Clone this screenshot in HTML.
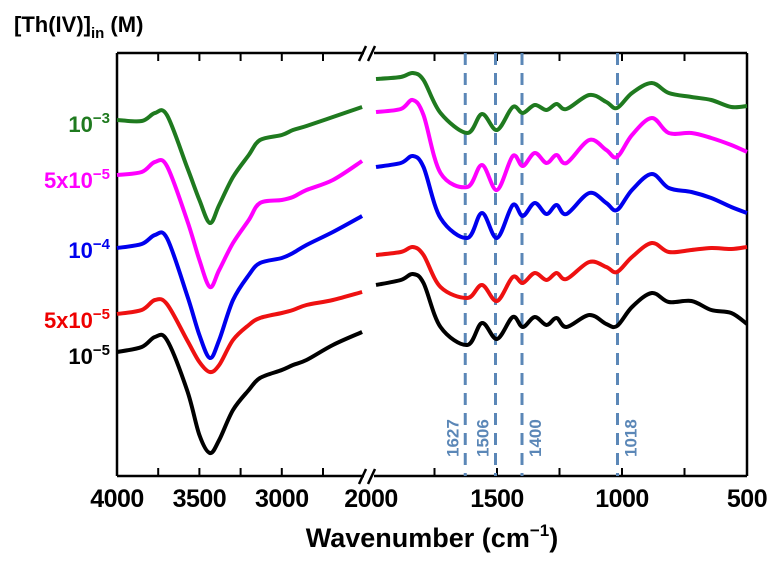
<!DOCTYPE html>
<html><head><meta charset="utf-8"><style>
html,body{margin:0;padding:0;background:#fff;width:784px;height:565px;overflow:hidden}
svg{display:block;font-family:"Liberation Sans",Arial,sans-serif}
</style></head><body>
<svg id="chart" width="784" height="565" viewBox="0 0 784 565" xmlns="http://www.w3.org/2000/svg">
<text x="14" y="32" font-size="22" font-weight="bold">[Th(IV)]<tspan font-size="15" dy="6">in</tspan><tspan dy="-6"> (M)</tspan></text>
<g id="frame" stroke="#000" stroke-width="2.5" fill="none">
<line x1="117" y1="53" x2="117" y2="476"/>
<line x1="747" y1="53" x2="747" y2="476"/>
<line x1="117" y1="53" x2="364" y2="53"/>
<line x1="374" y1="53" x2="747" y2="53"/>
<line x1="117" y1="476" x2="364" y2="476"/>
<line x1="374" y1="476" x2="747" y2="476"/>
<line x1="359" y1="61" x2="366" y2="46"/>
<line x1="368" y1="61" x2="375" y2="46"/>
<line x1="359" y1="484" x2="366" y2="469"/>
<line x1="368" y1="484" x2="375" y2="469"/>
</g>
<g id="ticks" stroke="#000" stroke-width="2"></g>
<g id="ticklabels" font-size="25" font-weight="bold" text-anchor="middle" letter-spacing="-0.5"></g>
<g id="dashes"></g>
<g id="series"></g>
<g id="labels" font-size="22" font-weight="bold" text-anchor="end">
<text x="110" y="132" fill="#1f7a1f">10<tspan font-size="15" dy="-9">−3</tspan></text>
<text x="110" y="188" fill="#ff00ff">5x10<tspan font-size="15" dy="-9">−5</tspan></text>
<text x="110" y="258" fill="#0000ee">10<tspan font-size="15" dy="-9">−4</tspan></text>
<text x="110" y="328" fill="#ee0000">5x10<tspan font-size="15" dy="-9">−5</tspan></text>
<text x="110" y="364" fill="#000">10<tspan font-size="15" dy="-9">−5</tspan></text>
</g>
<text x="432" y="547" font-size="27" font-weight="bold" text-anchor="middle">Wavenumber (cm<tspan font-size="17" dy="-11">−1</tspan><tspan dy="11">)</tspan></text>
</svg>
<script>
const leftWn=[4000,3850,3770,3697,3575,3500,3436,3380,3296,3200,3132,3000,2932,2850,2690,2513];
const rightWn=[1984,1885,1837,1794,1726,1619,1560,1500,1437,1397,1349,1302,1262,1222,1131,1063,1020,960,881,813,722,643,563,500];
const green1=[380,379,387,385,333,300,277,295,323,345,360,365,370,374,383,393];
const magenta1=[325,328,338,334,280,240,213,230,257,280,297,300,303,310,320,339];
const blue1=[252,256,265,262,205,165,142,160,200,225,237,242,247,255,268,284];
const red1=[186,190,200,196,160,138,128,135,160,175,182,187,190,195,200,208];
const black1=[148,153,163,160,110,65,47,60,90,110,122,130,135,140,155,168];
const green2=[421,423,427,420,387,367,386,370,393,387,395,390,396,391,405,398,392,407,417,407,403,400,393,394];
const magenta2=[388,391,400,385,327,313,335,310,344,334,347,337,345,337,360,350,343,365,382,367,367,362,355,348];
const blue2=[333,337,344,333,282,262,287,262,295,284,297,286,295,286,307,297,290,310,326,312,308,302,293,287];
const red2=[245,248,253,245,213,202,215,199,223,217,227,220,227,221,238,233,228,243,257,248,250,252,251,253];
const black2=[215,220,226,217,173,155,177,161,183,173,183,175,182,173,185,176,174,193,207,198,199,190,187,176];
const peaks=[1627,1506,1400,1018];
const leftTicks=[3750,3500,3250,3000,2750];
const rightTicks=[1750,1500,1250,1000,750];
const tickLabels=[[4000,'L'],[3500,'L'],[3000,'L'],[1500,'R'],[1000,'R'],[500,'R']];

const NS='http://www.w3.org/2000/svg';
function xL(w){return 117+(4000-w)/250*41.2;}
function xR(w){return 747-(w-500)/250*62.5;}
function yS(v){return 500-v;}
function el(t,a,p){const e=document.createElementNS(NS,t);for(const k in a)e.setAttribute(k,a[k]);p.appendChild(e);return e;}
function smooth(pts){
  let d='M'+pts[0][0].toFixed(1)+','+pts[0][1].toFixed(1);
  for(let i=0;i<pts.length-1;i++){
    const p0=pts[i-1]||pts[i],p1=pts[i],p2=pts[i+1],p3=pts[i+2]||p2;
    const c1=[p1[0]+(p2[0]-p0[0])/6,p1[1]+(p2[1]-p0[1])/6];
    const c2=[p2[0]-(p3[0]-p1[0])/6,p2[1]-(p3[1]-p1[1])/6];
    d+='C'+c1[0].toFixed(1)+','+c1[1].toFixed(1)+' '+c2[0].toFixed(1)+','+c2[1].toFixed(1)+' '+p2[0].toFixed(1)+','+p2[1].toFixed(1);
  }
  return d;
}
const ticks=document.getElementById('ticks');
leftTicks.forEach(w=>{
  const a=el('line',{x1:xL(w),y1:53,x2:xL(w),y2:61},ticks);
  
  
  const b=el('line',{x1:xL(w),y1:476,x2:xL(w),y2:468},ticks);
  
  
});
rightTicks.forEach(w=>{
  const a=el('line',{x1:xR(w),y1:53,x2:xR(w),y2:61},ticks);
  
  
  const b=el('line',{x1:xR(w),y1:476,x2:xR(w),y2:468},ticks);
  
  
});
const tl=document.getElementById('ticklabels');
tickLabels.forEach(([w,s])=>{
  const t=el('text',{x:s==='L'?xL(w):xR(w),y:507},tl);
  
  
  t.textContent=w;
});
const t2=el('text',{x:371,y:507},tl);


t2.textContent='2000';

const dg=document.getElementById('dashes');
peaks.forEach((w,i)=>{
  const x=xR(w);
  const l=el('line',{x1:x,y1:53,x2:x,y2:476,stroke:'#5b87b7','stroke-width':3,'stroke-dasharray':'12,8'},dg);
  
  
  const tx=(i<2)?x-7:x+19;
  const t=el('text',{x:tx,y:457,transform:'rotate(-90 '+tx+' 457)',fill:'#5b87b7','font-size':17,'font-weight':'bold'},dg);
  
  
  t.textContent=w;
});

const sg=document.getElementById('series');
const series=[['black',black1,black2,'#000'],['red',red1,red2,'#ee1111'],['blue',blue1,blue2,'#0000ee'],['magenta',magenta1,magenta2,'#ff00ff'],['green',green1,green2,'#1f7a1f']];
series.forEach(([n,a,b,c])=>{
  const p1=el('path',{d:smooth(leftWn.map((w,i)=>[xL(w),yS(a[i])])),fill:'none',stroke:c,'stroke-width':4,'stroke-linejoin':'round'},sg);
  
  
  const p2=el('path',{d:smooth(rightWn.map((w,i)=>[xR(w),yS(b[i])])),fill:'none',stroke:c,'stroke-width':4,'stroke-linejoin':'round'},sg);
  
  
});
</script>
</body></html>
